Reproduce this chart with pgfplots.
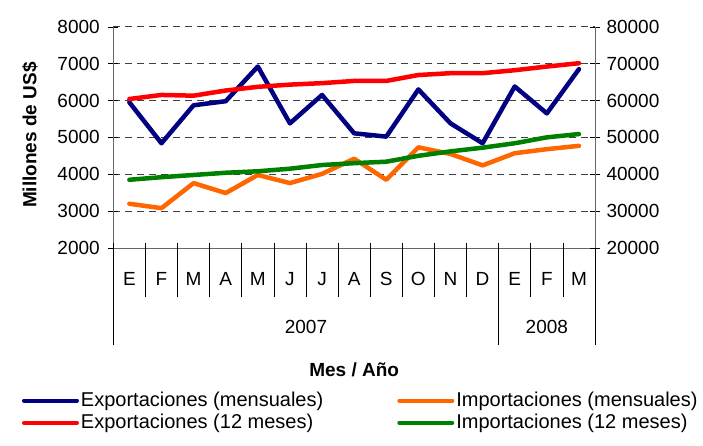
\documentclass[border=0pt]{standalone}
\usepackage{fontspec}
\setmainfont{Liberation Sans}
\usepackage{pgfplots}
\pgfplotsset{compat=1.18}
\definecolor{navy}{RGB}{0,0,128}
\definecolor{orng}{RGB}{255,102,0}
\definecolor{rd}{RGB}{255,0,0}
\definecolor{grn}{RGB}{0,128,0}
\begin{document}
\fontsize{19pt}{22pt}\selectfont
\begin{tikzpicture}[font=\fontsize{19pt}{22pt}\selectfont]
\useasboundingbox (-113.3pt,-197pt) rectangle (589.7pt,248pt);
\pgfplotsset{
  base/.style={
    at={(0pt,0pt)}, anchor=south west,
    scale only axis, width=481.7pt, height=221.3pt,
    xmin=-0.5, xmax=14.5,
    /pgf/number format/assume math mode=true,
    /pgf/number format/1000 sep={},
    scaled y ticks=false,
    axis line style={gray!80!black},
    y tick style={black},
    tick align=center,
    major tick length=10pt,
    clip=false,
  },
  every axis plot/.append style={line width=4.5pt, line join=round, line cap=round},
}
\begin{axis}[base,
  ymin=2000, ymax=8000,
  axis x line*=bottom, axis y line*=left,
  ytick={2000,3000,...,8000},
  ymajorgrids,
  major grid style={black!75, dash pattern=on 7pt off 5pt, line width=0.6pt},
  xtick={0,...,14},
  xticklabels={E,F,M,A,M,J,J,A,S,O,N,D,E,F,M},
  x tick style={draw=none},
  xticklabel style={anchor=center, yshift=-26pt},
  yticklabel style={xshift=-2pt},
  xlabel={\bfseries Mes / Año},
  xlabel style={at={(axis description cs:0.5,0)}, anchor=center, yshift=-122pt},
  ylabel={\bfseries Millones de US\$},
  ylabel style={at={(axis description cs:-0.173,0.51)}, anchor=center},
]
\addplot[navy] coordinates {(0,5950) (1,4840) (2,5870) (3,5980) (4,6920) (5,5380) (6,6150) (7,5110) (8,5020) (9,6300) (10,5380) (11,4840) (12,6380) (13,5650) (14,6850)};
\addplot[orng] coordinates {(0,3200) (1,3080) (2,3760) (3,3490) (4,3980) (5,3760) (6,4010) (7,4420) (8,3850) (9,4730) (10,4550) (11,4240) (12,4570) (13,4680) (14,4770)};
\pgfplotsinvokeforeach{0.5,1.5,2.5,3.5,4.5,5.5,6.5,7.5,8.5,9.5,10.5,12.5,13.5}{
  \draw[black, line width=0.6pt] ([yshift=5pt]axis cs:#1,2000) -- ++(0pt,-54pt);
}
\pgfplotsinvokeforeach{-0.5,11.5,14.5}{
  \draw[black, line width=0.6pt] ([yshift=5pt]axis cs:#1,2000) -- ++(0pt,-102pt);
}
\node at ([yshift=-79pt]axis cs:5.5,2000) {2007};
\node at ([yshift=-79pt]axis cs:13,2000) {2008};
\end{axis}
\begin{axis}[base,
  ymin=20000, ymax=80000,
  axis x line=none, axis y line*=right,
  ytick={20000,30000,...,80000},
  yticklabel style={xshift=0pt},
  legend columns=2,
  legend cell align=left,
  legend image code/.code={\draw[#1, line width=4pt, line cap=round] (0pt,0pt) -- (53pt,0pt);},
  legend style={at={(axis description cs:-0.19,-0.64)}, anchor=north west, draw=none, fill=none, inner sep=0pt,
    row sep=1pt, font=\fontsize{20pt}{23pt}\selectfont,
    /tikz/every even column/.append style={column sep=72pt}},
]
\addlegendimage{navy}
\addlegendentry{Exportaciones (mensuales)}
\addlegendimage{orng}
\addlegendentry{Importaciones (mensuales)}
\addplot[rd] coordinates {(0,60400) (1,61500) (2,61300) (3,62700) (4,63700) (5,64300) (6,64700) (7,65300) (8,65300) (9,66900) (10,67400) (11,67400) (12,68200) (13,69200) (14,70100)};
\addlegendentry{Exportaciones (12 meses)}
\addplot[grn] coordinates {(0,38500) (1,39200) (2,39800) (3,40400) (4,40800) (5,41500) (6,42500) (7,43000) (8,43400) (9,45000) (10,46200) (11,47200) (12,48400) (13,50000) (14,50900)};
\addlegendentry{Importaciones (12 meses)}
\end{axis}
\end{tikzpicture}
\end{document}
